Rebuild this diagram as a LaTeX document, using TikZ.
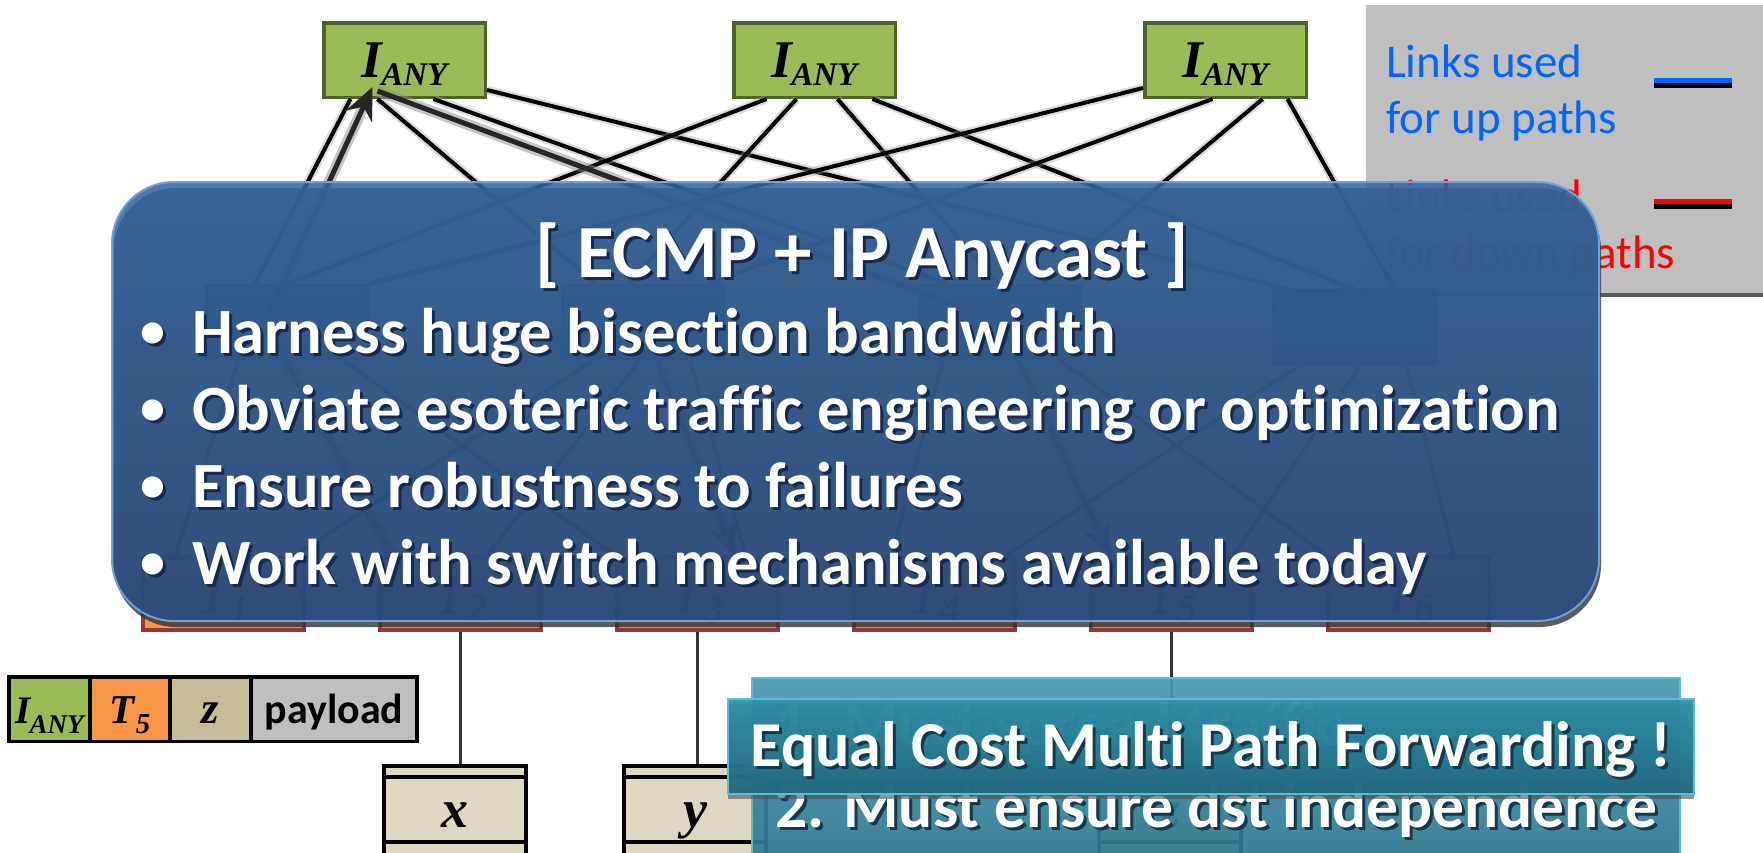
\documentclass[tikz,border=0pt]{standalone}
\usepackage{fontspec}
\setmainfont{Carlito}[Ligatures=NoCommon]
\newfontfamily\serifbi{Liberation Serif}
\usetikzlibrary{shadows,arrows.meta}

% palette
\definecolor{coreGreen}{RGB}{155,187,89}
\definecolor{coreEdge}{RGB}{79,98,40}
\definecolor{aggBlue}{RGB}{79,129,189}
\definecolor{aggEdge}{RGB}{40,75,120}
\definecolor{torOrange}{RGB}{247,150,70}
\definecolor{torEdge}{RGB}{149,55,53}
\definecolor{hostTan}{RGB}{221,217,195}
\definecolor{zTan}{RGB}{196,189,151}
\definecolor{payGray}{RGB}{191,191,191}
\definecolor{legGray}{RGB}{191,191,191}
\definecolor{legBlue}{RGB}{0,102,255}
\definecolor{legRed}{RGB}{255,0,0}
\definecolor{panelTop}{RGB}{52,102,160}
\definecolor{panelBot}{RGB}{42,76,128}
\definecolor{panelEdge}{RGB}{110,160,220}
\definecolor{txtShadow}{RGB}{22,42,80}
\definecolor{tealBackTop}{RGB}{70,152,178}
\definecolor{tealBackBot}{RGB}{40,112,134}
\definecolor{tealFrontTop}{RGB}{45,145,172}
\definecolor{tealFrontBot}{RGB}{30,105,128}
\definecolor{tealEdge}{RGB}{90,190,215}
\definecolor{tealShadow}{RGB}{18,58,72}

\newcommand\setsz[1]{\fontsize{#1}{#1}\selectfont}
% white text with a soft dark copy below right
\newcommand\shadowed[2][txtShadow]{\rlap{\kern3pt\raisebox{-3pt}{\textcolor{#1}{#2}}}#2}
\newcommand\bulleted[1]{\llap{\makebox[0pt]{\raisebox{6pt}{\setsz{50}•}}\hspace{39pt}}#1}
\newcommand\ianyBig{{\serifbi\bfseries\itshape\setsz{53}I\kern-1pt\raisebox{-8pt}{\setsz{33}ANY}}}
\newcommand\ianySmall{{\serifbi\bfseries\itshape\setsz{39}I\kern-1pt\raisebox{-10pt}{\setsz{27}ANY}}}
\newcommand\torname[1]{{\serifbi\itshape\setsz{56}T\raisebox{-9pt}{\setsz{40}#1}}}
\newcommand\hostname[1]{{\serifbi\bfseries\itshape\setsz{54}#1}}

\begin{document}
\begin{tikzpicture}[x=1pt,y=-1pt,
  core/.style={draw=coreEdge, fill=coreGreen, line width=3.5pt, minimum width=161.5pt,
    minimum height=74.5pt, inner sep=0pt, text height=35pt, text depth=1pt},
  agg/.style={draw=aggEdge, fill=aggBlue, line width=3.5pt, minimum width=161pt,
    minimum height=73pt, inner sep=0pt},
  tor/.style={draw=torEdge, fill=torOrange, line width=4pt, minimum width=161pt,
    minimum height=73pt, inner sep=0pt, text height=40pt, text depth=1pt},
  host/.style={draw=black, fill=hostTan, line width=4pt, minimum width=142pt,
    minimum height=102pt, inner sep=0pt, text height=22pt, text depth=2pt},
  cell/.style={draw=black, line width=3.5pt, minimum height=64.5pt, inner sep=0pt,
    text height=29pt, text depth=1pt},
  link/.style={draw=black, line width=4pt,
    preaction={draw=black!35, line width=8.5pt, opacity=0.4}},
  torlink/.style={draw=black!85, line width=4pt},
  route/.style={draw=black!85, line width=5pt,
    preaction={draw=black!45, line width=11pt, opacity=0.5}},
  tip/.style={-{Stealth[length=32pt,width=28pt]}},
  hostlink/.style={draw=black!80, line width=3pt},
  legbox/.style={fill=legGray, minimum width=414pt, minimum height=288pt, inner sep=0pt,
    drop shadow={shadow xshift=0pt, shadow yshift=-4pt, opacity=1, fill=black!65}},
  legtext/.style={anchor=base west, inner sep=0pt, font=\setsz{47}},
  panel/.style={minimum width=1487pt, minimum height=439pt, inner sep=0pt,
    rounded corners=62pt, top color=panelTop, bottom color=panelBot, fill opacity=0.87,
    draw=panelEdge, line width=2pt,
    drop shadow={shadow xshift=2pt, shadow yshift=-6pt, opacity=0.8, fill=black!80}},
  paneltext/.style={inner sep=0pt, text=white, font=\bfseries},
  tealback/.style={minimum width=928pt, minimum height=221pt, inner sep=0pt,
    top color=tealBackTop, bottom color=tealBackBot, fill opacity=0.92,
    draw=tealEdge, line width=2.5pt},
  tealfront/.style={minimum width=966pt, minimum height=95pt, inner sep=0pt,
    top color=tealFrontTop, bottom color=tealFrontBot, fill opacity=0.93,
    draw=tealEdge, line width=2.5pt,
    drop shadow={shadow xshift=0pt, shadow yshift=-5pt, opacity=0.6, fill=black!70}},
]
\useasboundingbox (0,0) rectangle (1763,852);
\fill[white] (0,0) rectangle (1763,852);

% ---------- legend ----------
\node[legbox] (legend) at (1573,149) {};
\node[legtext, text=legBlue] (lu1) at (1386,77) {Links used};
\node[legtext, text=legBlue] (lu2) at (1386,133) {for up paths};
\node[legtext, text=legRed] (ld1) at (1386,212) {Links used};
\node[legtext, text=legRed] (ld2) at (1386,268) {for down paths};
\coordinate (upL) at (1654,80.5);  \coordinate (upR) at (1732,80.5);
\coordinate (dnL) at (1654,201.5); \coordinate (dnR) at (1732,201.5);
\draw[line width=5pt, black] ([yshift=-5pt]upL) -- ([yshift=-5pt]upR);
\draw[line width=5pt, legBlue] (upL) -- (upR);
\draw[line width=5pt, black] ([yshift=-5pt]dnL) -- ([yshift=-5pt]dnR);
\draw[line width=5pt, legRed] (dnL) -- (dnR);

% ---------- switches ----------
\node[core] (C1) at (404.5,60) {\ianyBig};
\node[core] (C2) at (814.5,60) {\ianyBig};
\node[core] (C3) at (1225.5,60) {\ianyBig};

\node[agg] (A1) at (287,322) {};
\node[agg] (A2) at (643,322) {};
\node[agg] (A3) at (1000,322) {};
\node[agg] (A4) at (1354.5,327.5) {};

\node[tor] (T1) at (223.5,593.5) {\torname{1}};
\node[tor] (T2) at (460.5,593.5) {\torname{2}};
\node[tor] (T3) at (697.5,593.5) {\torname{3}};
\node[tor] (T4) at (934.5,593.5) {\torname{4}};
\node[tor] (T5) at (1171.5,593.5) {\torname{5}};
\node[tor] (T6) at (1408.5,593.5) {\torname{6}};

% intermediate -- aggregation mesh
\draw[link] ([xshift=-54pt]C1.south) -- ([xshift=-32pt]A1.north);
\draw[link] ([xshift=-27pt]C1.south) -- ([xshift=-47pt]A2.north);
\draw[link] ([xshift=29pt]C1.south)  -- ([xshift=-53pt]A3.north);
\draw[link] ([yshift=-30pt]C1.east)  -- ([xshift=-65pt]A4.north);
\draw[link] ([xshift=-48pt]C2.south) -- (A1.north);
\draw[link] ([xshift=-18pt]C2.south) -- ([xshift=-15pt]A2.north);
\draw[link] ([xshift=23pt]C2.south)  -- ([xshift=-2pt]A3.north);
\draw[link] ([xshift=58pt]C2.south)  -- (A4.north);
\draw[link] ([yshift=-28pt]C3.west)  -- (A1.north east);
\draw[link] ([xshift=-13pt]C3.south) -- ([xshift=65pt]A2.north);
\draw[link] ([xshift=37pt]C3.south)  -- ([xshift=43pt]A3.north);
\draw[link] ([xshift=62pt]C3.south)  -- ([xshift=40pt]A4.north);

% aggregation -- ToR links
\draw[torlink] ([xshift=-49pt]A1.south) -- ([xshift=-48pt]T1.north);
\draw[torlink] (A1.south)               -- ([xshift=-65pt]T2.north);
\draw[torlink] ([xshift=56pt]A1.south)  -- (T3.north west);
\draw[torlink] ([xshift=-50pt]A2.south) -- ([xshift=72pt]T1.north);
\draw[torlink] ([xshift=-3pt]A2.south)  -- ([xshift=27pt]T2.north);
\draw[torlink] ([xshift=47pt]A2.south)  -- ([xshift=48pt]T3.north);
\draw[torlink] ([xshift=-57pt]A3.south) -- ([xshift=-43pt]T4.north);
\draw[torlink] ([xshift=20pt]A3.south)  -- ([xshift=-60pt]T5.north);
\draw[torlink] ([xshift=60pt]A3.south)  -- (T6.north west);
\draw[torlink] ([xshift=-55pt]A4.south) -- ([xshift=72pt]T4.north);
\draw[torlink] ([xshift=5pt]A4.south)   -- ([xshift=62pt]T5.north);
\draw[torlink] ([xshift=52pt]A4.south)  -- ([xshift=45pt]T6.north);

% traced up and down routes
\draw[route, tip] ([xshift=-70pt]T2.north) -- ([xshift=-22pt]A1.center)
  -- ([xshift=-32pt,yshift=12pt]C1.south);
\draw[route, tip] ([xshift=-27pt,yshift=8pt]C1.south) -- (A3.center)
  -- ([xshift=-62pt]T5.north);
\draw[route, tip] ([xshift=14pt]A2.south) -- ([xshift=37pt]T3.north);

% ---------- hosts ----------
\node[host] (hx) at (455,817) {\hostname{x}};
\node[host] (hy) at (695,817) {\hostname{y}};
\node[host] (hz) at (1170,817) {\hostname{z}};
\foreach \h in {hx,hy,hz}{
  \draw[line width=4pt] ([yshift=-13pt]\h.north west) -- ([yshift=-13pt]\h.north east);
  \draw[line width=4pt] ([yshift=-78pt]\h.north west) -- ([yshift=-78pt]\h.north east);
}
\draw[hostlink] (T2.south) -- (T2.south |- hx.north);
\draw[hostlink] (T3.south) -- (T3.south |- hy.north);
\draw[hostlink] (T5.south) -- (T5.south |- hz.north);

% ---------- encapsulated packet ----------
\node[cell, fill=coreGreen, minimum width=81pt] (pI) at (49.5,709) {\ianySmall};
\node[cell, fill=torOrange, minimum width=80pt] (pT) at (130,709)
  {{\serifbi\bfseries\itshape\setsz{41}T\kern1pt\raisebox{-10pt}{\setsz{29}5}}};
\node[cell, fill=zTan, minimum width=81pt] (pZ) at (210.5,709)
  {{\serifbi\bfseries\itshape\setsz{45}z}};
\node[cell, fill=payGray, minimum width=166pt] (pP) at (334,709)
  {{\bfseries\setsz{42}payload}};

% ---------- summary panel ----------
\node[panel] (panel) at (855.5,401.5) {};
\node[paneltext, anchor=base] (ptitle) at (862.5,277)
  {\setsz{75}\shadowed{[ ECMP + IP Anycast ]}};
\node[paneltext, anchor=base west] (pb1) at (192,353)
  {\setsz{64.5}\shadowed{\bulleted{Harness huge bisection bandwidth}}};
\node[paneltext, anchor=base west] (pb2) at (192,430)
  {\setsz{64.5}\shadowed{\bulleted{Obviate esoteric traffic engineering or optimization}}};
\node[paneltext, anchor=base west] (pb3) at (192,507)
  {\setsz{64.5}\shadowed{\bulleted{Ensure robustness to failures}}};
\node[paneltext, anchor=base west] (pb4) at (192,584)
  {\setsz{64.5}\shadowed{\bulleted{Work with switch mechanisms available today}}};

% ---------- requirement banners ----------
\node[tealback] (req) at (1216,788.5) {};
\node[paneltext, anchor=base west] (r1) at (775,745)
  {\setsz{63.5}\shadowed[tealShadow]{1. Must spread traffic}};
\node[paneltext, anchor=base west] (r2) at (775,827)
  {\setsz{63.5}\shadowed[tealShadow]{2. Must ensure dst independence}};
\node[tealfront] (ecmp) at (1211,746.5) {};
\node[paneltext, anchor=base] (ecmpt) at (1211,766)
  {\setsz{64}\shadowed[tealShadow]{Equal Cost Multi Path Forwarding !}};
\end{tikzpicture}
\end{document}
